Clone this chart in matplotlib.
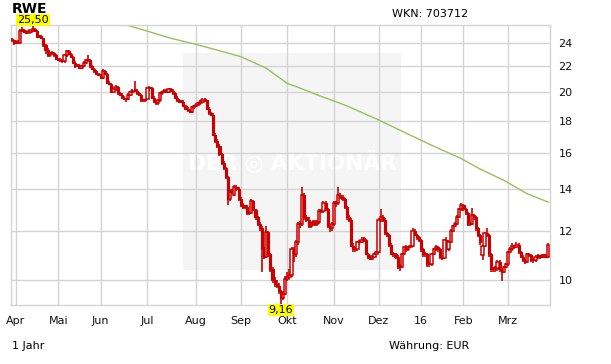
import numpy as np
import pandas as pd
import matplotlib
matplotlib.use('Agg')
import matplotlib.pyplot as plt
from matplotlib.patches import Rectangle

# RWE, 1 Jahr, Tageskerzen (Xetra-Handelstage)
holidays = ['2015-04-03', '2015-04-06', '2015-05-01', '2015-12-24', '2015-12-25',
            '2015-12-31', '2016-01-01', '2016-03-25', '2016-03-28']

opens = [
    24.30, 24.20, 24.00, 24.00, 24.00, 25.10, 25.10, 25.00, 24.90, 25.00,
    25.05, 25.20, 25.10, 24.50, 24.60, 24.40, 23.80, 23.40, 22.90, 23.10,
    23.10, 22.90, 22.60, 22.50, 22.50, 22.40, 22.90, 23.30, 23.00, 22.80,
    22.30, 22.00, 22.10, 21.90, 22.00, 22.30, 22.50, 22.50, 22.00, 21.80,
    21.60, 21.40, 21.30, 21.10, 21.60, 21.40, 20.70, 20.60, 20.00, 20.20,
    20.40, 19.90, 19.80, 19.60, 19.50, 19.50, 19.80, 20.00, 20.10, 20.10,
    19.90, 19.80, 19.40, 19.40, 19.50, 20.30, 20.30, 19.60, 19.30, 19.20,
    19.40, 19.90, 20.00, 20.10, 20.00, 20.20, 20.10, 19.90, 19.60, 19.40,
    19.30, 19.30, 19.00, 18.80, 18.70, 18.60, 18.90, 19.00, 19.10, 19.20,
    19.30, 19.45, 19.40, 18.80, 18.50, 18.40, 17.10, 16.70, 16.40, 15.90,
    15.40, 15.10, 14.60, 13.50, 13.85, 13.70, 14.10, 14.00, 13.50, 13.20,
    13.10, 13.10, 12.80, 12.80, 13.40, 12.95, 12.60, 12.30, 12.10, 11.20,
    10.90, 11.95, 11.00, 10.40, 10.00, 9.85, 9.80, 9.60, 9.35, 9.50,
    10.05, 10.10, 10.20, 11.20, 11.00, 11.50, 12.30, 12.30, 13.70, 12.60,
    12.50, 12.20, 12.30, 12.40, 12.30, 12.40, 12.90, 12.90, 13.30, 13.00,
    12.20, 12.10, 12.30, 13.30, 13.30, 13.70, 13.60, 13.50, 13.10, 12.60,
    12.50, 11.35, 11.20, 11.20, 11.50, 11.50, 11.60, 11.60, 11.00, 10.90,
    10.80, 10.90, 11.00, 11.10, 12.50, 12.60, 12.50, 11.90, 11.80, 11.40,
    11.00, 11.00, 10.90, 10.50, 10.50, 11.00, 11.30, 11.20, 11.30, 11.35,
    12.00, 11.80, 11.70, 11.60, 11.20, 11.00, 11.00, 10.60, 10.60, 11.00,
    11.20, 11.30, 11.20, 10.90, 10.85, 11.60, 11.20, 11.50, 12.00, 12.20,
    12.30, 12.60, 13.00, 13.20, 13.00, 12.80, 12.30, 12.30, 12.70, 12.60,
    12.10, 11.80, 10.95, 11.35, 11.90, 11.80, 11.00, 10.40, 10.40, 10.45,
    10.70, 10.40, 10.30, 10.50, 10.60, 11.10, 11.20, 11.35, 11.30, 11.40,
    11.10, 10.90, 10.75, 10.70, 11.00, 10.95, 10.75, 10.75, 10.90, 10.90,
    10.90, 10.90, 10.95, 10.90,
]
highs = [
    24.40, 24.25, 24.10, 24.15, 25.20, 25.40, 25.20, 25.10, 25.10, 25.15,
    25.50, 25.30, 25.15, 24.70, 24.70, 24.45, 23.90, 23.50, 23.20, 23.25,
    23.20, 23.00, 22.70, 22.65, 22.60, 23.00, 23.40, 23.35, 23.10, 22.85,
    22.40, 22.20, 22.20, 22.10, 22.40, 22.60, 22.90, 22.60, 22.10, 21.90,
    21.70, 21.50, 21.40, 21.80, 21.70, 21.50, 20.80, 20.70, 20.30, 20.50,
    20.45, 20.00, 19.90, 19.70, 19.60, 19.90, 20.10, 20.20, 20.80, 20.20,
    20.00, 19.85, 19.50, 19.50, 20.40, 20.45, 20.40, 19.70, 19.40, 19.50,
    20.00, 20.10, 20.20, 20.20, 20.30, 20.30, 20.20, 20.00, 19.70, 19.50,
    19.40, 19.40, 19.10, 18.90, 18.80, 19.00, 19.10, 19.20, 19.30, 19.40,
    19.55, 19.55, 19.45, 18.90, 18.60, 18.50, 17.20, 16.80, 16.50, 16.00,
    15.50, 15.20, 14.70, 13.95, 14.00, 14.20, 14.20, 14.10, 13.60, 13.30,
    13.20, 13.20, 12.90, 13.50, 13.45, 13.00, 12.65, 12.40, 12.20, 11.30,
    12.20, 12.00, 11.05, 10.50, 10.10, 10.00, 9.90, 9.65, 9.60, 10.15,
    10.30, 10.40, 11.30, 11.30, 11.60, 12.40, 12.45, 14.10, 13.80, 12.70,
    12.60, 12.40, 12.50, 12.50, 12.50, 13.00, 13.00, 13.40, 13.40, 13.05,
    12.30, 12.40, 13.40, 13.40, 14.10, 13.80, 13.70, 13.55, 13.15, 12.70,
    12.55, 11.45, 11.30, 11.55, 11.60, 11.70, 11.70, 11.65, 11.05, 10.95,
    10.95, 11.05, 11.15, 12.55, 13.00, 12.70, 12.55, 11.95, 11.85, 11.45,
    11.10, 11.05, 10.95, 10.60, 11.05, 11.35, 11.40, 11.35, 11.40, 12.10,
    12.05, 11.85, 11.75, 11.65, 11.25, 11.10, 11.05, 10.70, 11.05, 11.25,
    11.40, 11.35, 11.25, 10.95, 11.65, 11.70, 11.55, 12.05, 12.25, 12.40,
    12.70, 13.05, 13.30, 13.25, 13.05, 12.85, 12.40, 13.05, 12.75, 12.65,
    12.15, 11.85, 11.40, 11.95, 12.10, 11.85, 11.05, 10.50, 10.55, 10.75,
    10.75, 10.45, 10.55, 10.65, 11.15, 11.30, 11.45, 11.40, 11.50, 11.45,
    11.15, 10.95, 10.80, 11.05, 11.05, 11.00, 10.85, 10.95, 11.00, 10.95,
    11.00, 11.00, 11.00, 11.45,
]
lows = [
    24.05, 23.80, 23.90, 23.95, 23.95, 24.95, 24.90, 24.80, 24.85, 24.90,
    24.95, 25.00, 24.40, 24.40, 24.30, 23.60, 23.00, 22.80, 22.80, 22.95,
    22.80, 22.50, 22.40, 22.35, 22.30, 22.30, 22.80, 22.90, 22.70, 22.20,
    21.90, 21.95, 21.80, 21.80, 21.95, 22.20, 22.35, 21.90, 21.70, 21.50,
    21.30, 21.20, 21.00, 21.00, 21.30, 20.60, 20.50, 19.90, 19.90, 20.10,
    19.80, 19.70, 19.50, 19.40, 19.30, 19.40, 19.70, 19.90, 20.00, 19.80,
    19.70, 19.30, 19.30, 19.30, 19.40, 20.10, 19.50, 19.20, 19.10, 19.10,
    19.30, 19.80, 19.90, 19.90, 19.90, 20.00, 19.80, 19.50, 19.30, 19.20,
    19.20, 18.90, 18.70, 18.60, 18.50, 18.50, 18.80, 18.90, 19.00, 19.10,
    19.20, 19.30, 18.70, 18.40, 18.30, 17.00, 16.60, 16.30, 15.80, 15.30,
    15.00, 14.50, 13.20, 13.40, 13.75, 13.65, 13.90, 13.40, 13.10, 13.00,
    13.00, 12.70, 12.70, 12.75, 12.90, 12.50, 12.20, 12.00, 10.30, 10.80,
    10.85, 10.90, 10.30, 9.90, 9.75, 9.70, 9.50, 9.16, 9.30, 9.45,
    9.95, 10.05, 10.10, 10.70, 10.90, 11.40, 12.10, 12.20, 12.50, 12.40,
    12.10, 12.10, 12.20, 12.20, 12.20, 12.30, 12.80, 12.80, 12.90, 12.10,
    11.95, 12.00, 12.20, 13.10, 13.20, 13.50, 13.40, 13.00, 12.50, 12.40,
    11.30, 11.10, 11.10, 11.15, 11.40, 11.45, 11.50, 10.95, 10.80, 10.75,
    10.75, 10.85, 10.95, 11.05, 12.40, 12.40, 11.80, 11.70, 11.30, 10.95,
    10.90, 10.80, 10.40, 10.35, 10.45, 10.95, 11.10, 11.15, 11.25, 11.30,
    11.75, 11.60, 11.50, 11.10, 10.90, 10.90, 10.50, 10.50, 10.55, 10.95,
    11.15, 11.10, 10.80, 10.75, 10.80, 11.10, 11.15, 11.45, 11.95, 12.15,
    12.25, 12.55, 12.90, 12.90, 12.70, 12.20, 12.20, 12.25, 12.50, 12.00,
    11.70, 11.40, 10.75, 11.30, 11.70, 10.90, 10.30, 10.30, 10.30, 10.35,
    10.30, 9.95, 10.25, 10.45, 10.55, 11.05, 11.15, 11.20, 11.25, 11.00,
    10.85, 10.70, 10.60, 10.65, 10.90, 10.70, 10.65, 10.70, 10.80, 10.80,
    10.85, 10.85, 10.85, 10.85,
]
closes = [
    24.20, 24.00, 24.00, 24.05, 25.10, 25.10, 25.00, 24.90, 25.00, 25.05,
    25.20, 25.10, 24.50, 24.60, 24.40, 23.80, 23.40, 22.90, 23.10, 23.10,
    22.90, 22.60, 22.50, 22.50, 22.40, 22.90, 23.30, 23.00, 22.80, 22.30,
    22.00, 22.10, 21.90, 22.00, 22.30, 22.50, 22.50, 22.00, 21.80, 21.60,
    21.40, 21.30, 21.10, 21.60, 21.40, 20.70, 20.60, 20.00, 20.20, 20.40,
    19.90, 19.80, 19.60, 19.50, 19.50, 19.80, 20.00, 20.10, 20.10, 19.90,
    19.80, 19.40, 19.40, 19.40, 20.30, 20.30, 19.60, 19.30, 19.20, 19.40,
    19.90, 20.00, 20.10, 20.00, 20.20, 20.10, 19.90, 19.60, 19.40, 19.30,
    19.30, 19.00, 18.80, 18.70, 18.60, 18.90, 19.00, 19.10, 19.20, 19.30,
    19.45, 19.40, 18.80, 18.50, 18.40, 17.10, 16.70, 16.40, 15.90, 15.40,
    15.10, 14.60, 13.50, 13.85, 13.90, 14.10, 14.00, 13.50, 13.20, 13.10,
    13.10, 12.80, 12.80, 13.40, 12.95, 12.60, 12.30, 12.10, 11.20, 10.90,
    11.95, 11.00, 10.40, 10.00, 9.85, 9.80, 9.60, 9.35, 9.50, 10.05,
    10.10, 10.20, 11.20, 11.00, 11.50, 12.30, 12.30, 13.70, 12.60, 12.50,
    12.20, 12.30, 12.40, 12.30, 12.40, 12.90, 12.90, 13.30, 13.00, 12.20,
    12.10, 12.30, 13.30, 13.30, 13.70, 13.60, 13.50, 13.10, 12.60, 12.50,
    11.35, 11.20, 11.20, 11.50, 11.50, 11.60, 11.60, 11.00, 10.90, 10.80,
    10.90, 11.00, 11.10, 12.50, 12.60, 12.50, 11.90, 11.80, 11.40, 11.00,
    11.00, 10.90, 10.50, 10.50, 11.00, 11.30, 11.20, 11.30, 11.35, 12.00,
    11.80, 11.70, 11.60, 11.20, 11.00, 11.00, 10.60, 10.60, 11.00, 11.20,
    11.30, 11.20, 10.90, 10.85, 11.60, 11.20, 11.50, 12.00, 12.20, 12.30,
    12.60, 13.00, 13.20, 13.00, 12.80, 12.30, 12.30, 12.70, 12.60, 12.10,
    11.80, 11.50, 11.35, 11.90, 11.80, 11.00, 10.40, 10.40, 10.45, 10.70,
    10.40, 10.30, 10.50, 10.60, 11.10, 11.20, 11.35, 11.30, 11.40, 11.10,
    10.90, 10.75, 10.70, 11.00, 10.95, 10.75, 10.75, 10.90, 10.90, 10.90,
    10.90, 10.95, 10.90, 11.40,
]

# 200-Tage-Linie
ma_dates = ['2015-06-15', '2015-07-01', '2015-07-15', '2015-08-03', '2015-08-12',
            '2015-08-25', '2015-09-01', '2015-09-17', '2015-10-01', '2015-10-09',
            '2015-10-21', '2015-11-03', '2015-11-11', '2015-12-01', '2015-12-14',
            '2016-01-08', '2016-01-29', '2016-02-11', '2016-02-26', '2016-03-14',
            '2016-03-30']
ma_values = [25.75, 25.05, 24.45, 23.85, 23.50,
             23.05, 22.80, 21.85, 20.65, 20.30,
             19.80, 19.30, 18.95, 18.05, 17.45,
             16.50, 15.65, 15.05, 14.45, 13.75,
             13.33]

month_labels = ['Apr', 'Mai', 'Jun', 'Jul', 'Aug', 'Sep', 'Okt', 'Nov', 'Dez', '16', 'Feb', 'Mrz']
y_ticks = [10, 12, 14, 16, 18, 20, 22, 24]

days = pd.bdate_range('2015-03-30', '2016-03-30')
days = days[~days.isin(pd.to_datetime(holidays))]
x = np.arange(len(days))

o = np.array(opens)
h = np.array(highs)
l = np.array(lows)
c = np.array(closes)

red = '#cc0000'
grid_c = '#d4d4d4'

fig = plt.figure(figsize=(6.11, 3.64), dpi=100)
ax = fig.add_axes([10.5 / 611, 1 - 305 / 364, 539.5 / 611, 280 / 364])
ax.set_yscale('log')
ax.set_ylim(9.12, 25.62)
ax.set_xlim(-0.5, 253.8)

# watermark
ax.add_patch(Rectangle((0.3197, 0.125), 0.404, 0.775, transform=ax.transAxes,
                       facecolor='#f5f5f5', edgecolor='none', zorder=0))
ax.text(0.5217, 0.51, 'DER \u25CE AKTIONÄR', transform=ax.transAxes, ha='center', va='center',
        fontsize=15.5, fontweight='bold', color='white', zorder=0.5)

# grid
month_pos = []
for yy, mm in [(2015, 4), (2015, 5), (2015, 6), (2015, 7), (2015, 8), (2015, 9), (2015, 10),
               (2015, 11), (2015, 12), (2016, 1), (2016, 2), (2016, 3)]:
    month_pos.append(int(np.argmax((days.year == yy) & (days.month == mm))))
ax.set_xticks(month_pos)
ax.set_xticklabels(month_labels)
ax.set_yticks(y_ticks)
ax.set_yticklabels([str(v) for v in y_ticks])
ax.yaxis.set_minor_locator(matplotlib.ticker.NullLocator())
ax.grid(True, color=grid_c, lw=1, zorder=1)
ax.set_axisbelow(True)
for s in ax.spines.values():
    s.set_color(grid_c)
    s.set_linewidth(1)
ax.yaxis.tick_right()
ax.tick_params(axis='both', length=0, labelsize=8, colors='#111111')
ax.tick_params(axis='y', pad=6)
ax.tick_params(axis='x', pad=8)

# moving average
ma_x = [days.get_loc(pd.Timestamp(d)) for d in ma_dates]
ax.plot(ma_x, ma_values, color='#9cbf5c', lw=1, zorder=2)

# candles
ax.vlines(x, l, h, color=red, lw=1.2, zorder=3)
body = np.maximum(np.abs(c - o), c * 0.005)
up = c > o
ax.bar(x[~up], body[~up], bottom=np.minimum(o, c)[~up], width=1.0,
       color=red, edgecolor=red, lw=0.8, zorder=4)
ax.bar(x[up], body[up], bottom=o[up], width=1.1,
       facecolor='white', edgecolor=red, lw=1.1, zorder=4)

# high / low labels
ih = int(np.argmax(h))
il = int(np.argmin(l))
ax.annotate(f'{h[ih]:.2f}'.replace('.', ','), (x[ih], 25.62), ha='center', va='bottom',
            fontsize=8, annotation_clip=False, zorder=6,
            bbox=dict(boxstyle='square,pad=0.1', fc='#ffff00', ec='none'))
ax.annotate(f'{l[il]:.2f}'.replace('.', ','), (x[il], 9.12), ha='center', va='top',
            fontsize=8, annotation_clip=False, zorder=6,
            bbox=dict(boxstyle='square,pad=0.1', fc='#ffff00', ec='none'))

fig.text(12 / 611, 1 - 9 / 364, 'RWE', fontsize=10, fontweight='bold', va='center', zorder=1)
fig.text(392 / 611, 1 - 14 / 364, 'WKN: 703712', fontsize=8, va='center')
fig.text(12 / 611, 1 - 346 / 364, '1 Jahr', fontsize=8, va='center')
fig.text(389 / 611, 1 - 346 / 364, 'Währung: EUR', fontsize=8, va='center')

fig.savefig('out.png', dpi=100)
